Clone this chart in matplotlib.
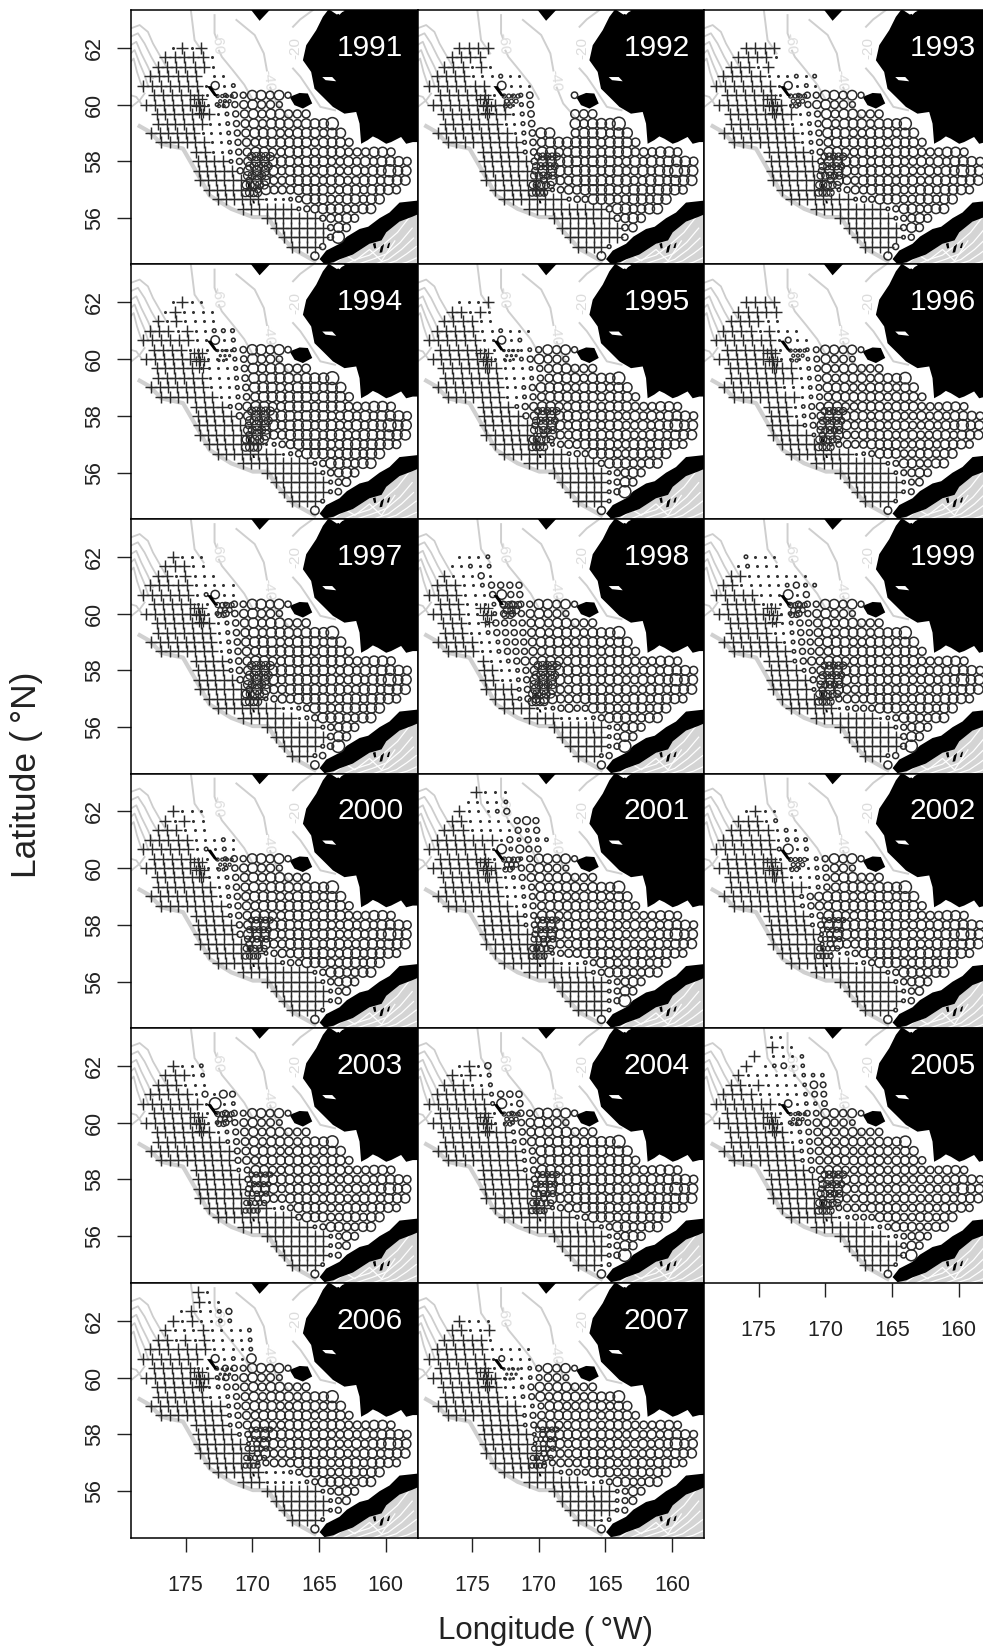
import matplotlib
matplotlib.use("Agg")
import matplotlib.pyplot as plt

plt.rcParams['font.family'] = ['Liberation Sans', 'DejaVu Sans']

W, H = 983, 1651
years = list(range(1991, 2008))
col_left = [131, 417.5, 704]
row_top = [10, 264.5, 519, 773.5, 1028, 1283]
panel_w, panel_h = 286.5, 254.5

# survey grid, rows from r=-3 (63N) to r=22
row_lat = [63.0, 62.67, 62.33, 62.0, 61.67, 61.33, 61.0, 60.67, 60.33, 60.0, 59.67, 59.33, 59.0,
           58.67, 58.33, 58.0, 57.67, 57.33, 57.0, 56.67, 56.33, 56.0, 55.67, 55.33, 55.0, 54.67]
row_step = [.734, .725, .717, .710, .702, .694, .687, .680, .672, .667, .660, .654, .647,
            .641, .635, .629, .623, .617, .612, .606, .601, .596, .591, .586, .581, .576]
lon_ref = 165.3

# usual ring size per station for rows r=5..22, one char per column
base_rings = [
    " 2222222222244342",
    "2222222222234332",
    " 222222222234344333",
    " 222222222234344434445",
    "22222222222344433444344",
    " 22222222223344444434443",
    "     222223344334443444333443",
    "     22222334444434443343434443",
    "     22222344443444344334344544",
    "     22222344433444434433443444",
    "      222233443334444334434443",
    "       222223333224443344344",
    "          22222212334443344",
    "             222222233343",
    "              2222223343",
    "               22222345",
    "                22222",
    "                   3",
]

# last column of crosses in rows r=5..21
cross_end = {
    1991: [6, 6, 7, 6, 5, 6, 6, 8, 9, 10, 11, 12, 16, 19, 20, 20, 19],
    1992: [6, 8, 8, 7, 8, 9, 9, 10, 10, 11, 12, 14, 19, 20, 21, 21, 19],
    1993: [6, 7, 8, 7, 8, 8, 9, 10, 10, 11, 11, 14, 18, 19, 20, 20, 19],
    1994: [4, 6, 5, 6, 6, 7, 8, 9, 10, 10, 12, 14, 18, 19, 20, 20, 19],
    1995: [5, 6, 7, 7, 7, 7, 8, 9, 10, 10, 11, 14, 18, 19, 19, 19, 19],
    1996: [6, 6, 8, 8, 6, 8, 7, 7, 8, 9, 10, 14, 18, 19, 20, 20, 19],
    1997: [5, 6, 7, 7, 7, 7, 8, 8, 9, 10, 12, 14, 16, 19, 20, 19, 18],
    1998: [3, 3, 3, 3, 4, 4, 5, 6, 6, 8, 8, 10, 13, 19, 19, 19, 18],
    1999: [4, 5, 5, 5, 6, 7, 7, 8, 9, 9, 11, 12, 17, 19, 20, 20, 18],
    2000: [5, 6, 6, 7, 7, 8, 8, 9, 9, 10, 12, 14, 18, 19, 20, 20, 19],
    2001: [6, 7, 7, 7, 7, 8, 9, 9, 10, 11, 12, 13, 17, 19, 19, 19, 19],
    2002: [6, 7, 7, 9, 8, 8, 9, 9, 10, 10, 11, 14, 18, 19, 20, 20, 19],
    2003: [5, 6, 7, 8, 9, 9, 9, 10, 10, 11, 13, 16, 18, 20, 20, 20, 19],
    2004: [6, 6, 8, 8, 9, 9, 9, 10, 10, 11, 12, 15, 18, 19, 19, 19, 18],
    2005: [5, 6, 7, 7, 8, 8, 9, 10, 10, 10, 11, 12, 16, 18, 20, 20, 19],
    2006: [5, 7, 6, 6, 8, 8, 8, 9, 10, 11, 11, 12, 12, 19, 20, 20, 19],
    2007: [6, 7, 7, 7, 9, 9, 9, 10, 10, 11, 11, 13, 16, 20, 20, 20, 18],
}

# last column of near-empty stations after the crosses
dot_end = {
    1991: [9, 8, 9, 9, 9, 9, 9, 9, 9, 10, 11, 16, 17, 19, 20, 20, 19],
    1992: [10, 10, 10, 10, 10, 10, 10, 10, 10, 11, 13, 15, 19, 20, 21, 21, 20],
    1993: [9, 9, 10, 10, 10, 10, 10, 10, 10, 11, 13, 15, 19, 20, 20, 21, 19],
    1994: [10, 10, 10, 10, 10, 10, 9, 9, 10, 10, 14, 16, 19, 20, 21, 21, 20],
    1995: [11, 10, 11, 11, 10, 10, 9, 9, 10, 11, 13, 15, 18, 20, 20, 20, 20],
    1996: [10, 10, 10, 10, 10, 10, 9, 9, 9, 10, 12, 16, 19, 20, 21, 21, 20],
    1997: [9, 8, 9, 9, 9, 9, 9, 9, 9, 10, 13, 17, 18, 20, 20, 20, 19],
    1998: [7, 7, 6, 6, 7, 7, 8, 9, 9, 9, 9, 13, 18, 20, 20, 20, 19],
    1999: [8, 8, 8, 8, 8, 8, 8, 9, 9, 10, 12, 14, 19, 20, 20, 20, 19],
    2000: [9, 9, 9, 9, 9, 9, 9, 9, 9, 10, 13, 15, 19, 20, 21, 21, 20],
    2001: [10, 9, 9, 10, 10, 10, 10, 10, 10, 11, 13, 17, 18, 20, 20, 20, 20],
    2002: [11, 11, 11, 11, 9, 9, 10, 10, 11, 11, 14, 16, 19, 20, 21, 21, 20],
    2003: [8, 8, 9, 9, 9, 9, 10, 10, 10, 11, 15, 16, 19, 21, 21, 21, 20],
    2004: [9, 9, 9, 9, 10, 10, 10, 10, 10, 11, 13, 16, 19, 20, 20, 20, 20],
    2005: [9, 8, 9, 9, 9, 9, 9, 10, 10, 10, 12, 14, 18, 20, 20, 20, 20],
    2006: [8, 8, 8, 9, 9, 9, 9, 10, 11, 11, 12, 16, 18, 20, 21, 21, 20],
    2007: [11, 11, 10, 10, 11, 10, 10, 11, 11, 11, 12, 14, 19, 21, 21, 21, 20],
}

# stations north of r=5: rows r=-3..4, + cross, . dot, digit ring size
north = {
    1991: ["", "", "", "    .+.+", "   +++++.", "  ++++++.", " ++++++ ..", "+++++++.3.1"],
    1992: ["", "", "", "    ++++", "   ++++", "  +++.+.", " ++++...1..", "+++++++ 3..."],
    1993: ["", "", "", "    ++++", "   ++++.", "  +++.+", " +++++...1.1", "+++++++.3.1."],
    1994: ["", "", "", "    .+..", "   .+....", "  +.+....", " +++.+..111", "++++++..3.1"],
    1995: ["", "", "", "    ...+", "   ++.+.", "  ++++..", " +++++..1...", "++++++..3.1"],
    1996: ["", "", "", "    ++++", "   +++++", "  ++++..", " ++++.+...", "+++++++.2.."],
    1997: ["", "", "", "    +...", "   +++..", "  ++.+...", " +++++.....", "++++++.13.."],
    1998: ["", "", "", "    ...1", "   ..1.1", "  +...2.", " +++..12222", "++++...2422"],
    1999: ["", "", "", "    1...", "   .1...", "  ++.......", " ++.....1211", "+++++...4.2"],
    2000: ["", "", "", "    +...", "   +.+..", "  +++...", " +++++...1.", "++++++.1.1."],
    2001: ["", "      +...", "     ....1", "    +...12", "   ++.....232", "  +++.....212", " +++++++.21211", "+++++++.41322"],
    2002: ["", "", "", "    .+..", "   +++.1", "  +++++.1.", " ++++++.111", "+++++++14.1"],
    2003: ["", "", "", "    +..1", "   +++.1", "  +++...", " +++++.2.32", "+++++++.5.1"],
    2004: ["", "", "", "    .+.2", "   +.+.1", "  +++..1", " ++++++1222", "+++++++14.2"],
    2005: ["       ..", "       +..", "     + ...1", "    + .12.1", "   +......111", "  ++.+....132", " ++++.....122", "+++++++.3.112"],
    2006: ["       +.", "       +..", "     .+..12", "    +.+..11", "   +...+....1", "  ++.+.+....1", " +++++++....1", "+++++++ 3.1.4"],
    2007: ["", "", "", "    +...", "   ++..+", "  +++++.", " ++++++.....", "+++++++.2..."],
}

ring_scale = {1991: 1.0, 1992: 1.06, 1993: 1.0, 1994: 1.06, 1995: 1.0, 1996: 0.95, 1997: 1.04, 1998: 1.0,
              1999: 1.0, 2000: 1.02, 2001: 0.98, 2002: 1.02, 2003: 0.96, 2004: 1.03, 2005: 0.92, 2006: 0.98, 2007: 0.96}

# stations skipped in a year: (row, first col, last col)
gaps = {1992: [(5, 12, 15), (6, 12, 15), (7, 12, 15), (8, 12, 15), (9, 14, 15)]}

# extra stations round the Pribilofs and St Matthew
prib_lon = [170.05, 169.7, 169.35, 169.0, 168.65, 170.2, 169.85, 169.5, 169.15, 168.8, 170.35, 170.0, 169.65, 169.3, 168.95,
            170.45, 170.15, 169.8, 169.45, 169.1, 170.5, 170.2, 169.9, 169.6]
prib_lat = [58.17, 58.17, 58.17, 58.17, 58.17, 57.83, 57.83, 57.83, 57.83, 57.83, 57.5, 57.5, 57.5, 57.5, 57.5,
            57.17, 57.17, 57.17, 57.17, 57.17, 56.9, 56.9, 56.9, 56.9]
prib_px = {1991: 8, 1992: 7, 1993: 7, 1994: 8, 1995: 7, 1996: 7, 1997: 8, 1998: 8, 1999: 7,
           2000: 6, 2001: 6, 2002: 5, 2003: 5, 2004: 6, 2005: 7, 2006: 5, 2007: 5}
matt_lon = [172.6, 172.25, 171.9, 171.55, 172.4, 172.05, 171.7, 172.5, 172.15]
matt_lat = [60.3, 60.3, 60.3, 60.3, 60.12, 60.12, 60.12, 59.95, 59.95]
matt_px = {1991: 3, 1992: 4, 1993: 4, 1994: 2, 1995: 2, 1996: 3, 1997: 5, 1998: 7, 1999: 5,
           2000: 3, 2001: 5, 2002: 4, 2003: 5, 2004: 4, 2005: 3, 2006: 2, 2007: 2}
hatch_lon = [174.4, 174.1, 173.8, 174.2, 173.9, 173.6, 174.0, 173.7]
hatch_lat = [60.2, 60.2, 60.2, 59.95, 59.95, 59.95, 59.7, 59.7]

# land outlines, lon / lat
alaska_lon = [164.2, 164.7, 165.2, 165.95, 166.2, 165.58, 165.33, 164.7, 163.95, 163.08, 162.2, 161.95, 161.83,
              161.33, 160.95, 160.58, 159.95, 159.58, 158.83, 158.45, 157.95, 157.0, 157.0, 163.0, 163.45, 163.9]
alaska_lat = [63.4, 63.09, 62.62, 62.09, 61.56, 61.15, 60.56, 60.27, 59.92, 59.68, 59.74, 59.33, 58.62,
              58.75, 58.88, 58.8, 58.62, 58.68, 58.86, 58.62, 58.68, 58.68, 63.4, 63.4, 63.16, 63.34]
peninsula_lon = [157.0, 158.95, 159.7, 160.45, 161.3, 161.95, 162.9, 163.45, 164.45, 164.95, 164.58, 163.9, 163.45, 162.45,
                 161.2, 160.3, 159.95, 158.95, 158.0, 157.0]
peninsula_lat = [56.65, 56.55, 56.2, 56.0, 55.7, 55.62, 55.35, 55.1, 54.86, 54.56, 54.38, 54.45, 54.55, 54.72,
                 55.1, 55.22, 55.5, 55.88, 56.05, 56.25]
nunivak_lon = [167.2, 166.45, 165.83, 165.5, 166.2, 166.83]
nunivak_lat = [60.27, 60.41, 60.39, 60.04, 59.86, 59.98]
lawrence_lon = [170.2, 168.55, 169.45]
lawrence_lat = [63.4, 63.4, 62.95]
matthew_lon = [173.4, 173.1, 172.6, 172.85]
matthew_lat = [60.65, 60.65, 60.3, 60.3]
islets = [([160.95, 160.75, 160.7, 160.85], [55.1, 55.13, 54.95, 54.93]),
          ([160.35, 160.1, 160.25, 160.45], [55.0, 55.1, 54.8, 54.78]),
          ([159.8, 159.65, 159.75, 159.9], [55.1, 55.15, 54.95, 54.95]),
          ([170.35, 170.1, 170.05, 170.3], [57.22, 57.2, 57.08, 57.06]),
          ([170.0, 169.85, 169.8, 169.95], [56.64, 56.62, 56.52, 56.52])]
notches = [([164.4, 163.7, 163.05, 163.65], [63.4, 63.4, 63.3, 63.17]),
           ([164.75, 164.0, 163.7, 164.5], [60.97, 60.97, 60.82, 60.86])]

# gulf side depth ground
gulf_lon = [165.6, 164.58, 163.45, 162.45, 161.2, 159.95, 158.95, 157.4, 157.4, 165.6]
gulf_lat = [54.3, 54.38, 54.55, 54.72, 55.1, 55.5, 55.88, 56.3, 54.3, 54.3]
gulf_lines = [([164.0, 163.0, 162.3, 161.2, 160.3, 159.3], [54.35, 54.7, 54.5, 54.9, 54.5, 55.2]),
              ([163.2, 162.2, 161.2, 160.2, 159.1, 158.1], [54.35, 54.55, 54.7, 55.05, 55.5, 56.1]),
              ([162.3, 161.0, 159.9, 158.9, 158.0], [54.35, 54.55, 54.75, 55.15, 55.65]),
              ([161.0, 159.8, 158.8, 157.9], [54.35, 54.55, 54.9, 55.3]),
              ([160.2, 159.2, 158.4, 157.7], [54.35, 54.5, 54.75, 55.0]),
              ([159.2, 158.4, 157.7], [54.35, 54.45, 54.6])]

# depth contours
shelf_lon = [178.45, 177.7, 176.83, 175.2, 174.33, 173.83, 173.2, 171.58, 169.95, 168.83, 168.2, 166.95, 165.33]
shelf_lat = [59.24, 59.04, 58.62, 58.45, 57.74, 57.33, 56.8, 56.33, 56.04, 56.04, 55.56, 54.92, 54.5]
slope_lines = [([179.13, 178.45, 177.83, 177.45, 176.95, 176.45], [62.68, 62.8, 62.56, 62.15, 61.74, 61.33]),
               ([179.13, 178.58, 178.08, 177.58, 177.08], [62.39, 62.51, 62.15, 61.68, 61.27]),
               ([179.13, 178.7, 178.33, 177.83, 177.45], [62.09, 62.21, 61.8, 61.33, 60.92]),
               ([179.13, 178.83, 178.45, 178.08, 177.83], [61.8, 61.92, 61.45, 61.04, 60.68]),
               ([179.13, 178.9, 178.65, 178.4, 178.2], [61.51, 61.62, 61.15, 60.8, 60.56]),
               ([179.13, 178.7, 178.33], [60.33, 60.27, 60.03]),
               ([179.13, 178.45, 178.08], [59.9, 60.15, 60.39])]
depth_lines = [([174.61, 174.33, 173.65], [63.33, 62.27, 61.8]),
               ([172.83, 172.83, 172.7], [63.15, 62.51, 62.35]),
               ([172.5, 172.28, 171.46, 170.6, 170.0], [61.9, 61.68, 61.21, 60.7, 60.2]),
               ([171.19, 169.82, 169.13, 168.9], [62.98, 62.45, 61.8, 61.2]),
               ([168.65, 168.17, 167.08], [60.6, 60.04, 59.45]),
               ([166.94, 166.4, 165.44], [62.74, 63.0, 63.33]),
               ([166.94, 166.39, 165.71, 164.89, 163.79], [61.27, 60.98, 60.51, 59.92, 59.8])]
depth_labels = ["-60", "-40", "-20"]
depth_label_lon = [172.63, 168.77, 166.75]
depth_label_lat = [62.15, 60.86, 61.98]
depth_label_rot = [-85, -85, 90]

ring_px = {'1': 3.5, '2': 6.0, '3': 8.0, '4': 9.5, '5': 12.0}
ink = '#2b2b2b'


def station(r_index, col):
    return lon_ref + row_step[r_index] * (19 - col), row_lat[r_index]


def draw_map(ax):
    ax.fill(gulf_lon, gulf_lat, color='#d4d4d4', lw=0, zorder=1)
    for lo, la in gulf_lines:
        ax.plot(lo, la, color='white', lw=0.9, zorder=1.1)
    ax.plot(shelf_lon, shelf_lat, color='#d0d0d0', lw=3.0, zorder=1.2)
    for lo, la in slope_lines:
        ax.plot(lo, la, color='#cdcdcd', lw=1.3, zorder=1.2)
    for lo, la in depth_lines:
        ax.plot(lo, la, color='#cfcfcf', lw=1.4, zorder=1.2)
    for t, lo, la, rot in zip(depth_labels, depth_label_lon, depth_label_lat, depth_label_rot):
        ax.text(lo, la, t, color='#dcdcdc', fontsize=11, rotation=rot, ha='center', va='center', zorder=1.3)
    for lo, la in [(alaska_lon, alaska_lat), (peninsula_lon, peninsula_lat), (nunivak_lon, nunivak_lat),
                   (lawrence_lon, lawrence_lat)] + islets:
        ax.fill(lo, la, color='black', lw=0, zorder=3)
    for lo, la in notches:
        ax.fill(lo, la, color='white', lw=0, zorder=3.1)


def draw_stations(ax, year):
    cross_x, cross_y, dot_x, dot_y, ring_x, ring_y, ring_s = [], [], [], [], [], [], []
    scale = ring_scale[year]

    def add(code, lo, la):
        if code == '+':
            cross_x.append(lo)
            cross_y.append(la)
        elif code == '.':
            dot_x.append(lo)
            dot_y.append(la)
        elif code != ' ':
            ring_x.append(lo)
            ring_y.append(la)
            ring_s.append((ring_px[code] * scale * 0.72) ** 2)

    for i, row in enumerate(north[year]):
        for c, code in enumerate(row):
            lo, la = station(i, c)
            add(code, lo, la)

    for i, row in enumerate(base_rings):
        r = i + 5
        for c, code in enumerate(row):
            if code == ' ':
                continue
            if any(g[0] == r and g[1] <= c <= g[2] for g in gaps.get(year, [])):
                continue
            lo, la = station(i + 8, c)
            if i < 17 and c <= cross_end[year][i]:
                add('+', lo, la)
            elif i < 17 and c < dot_end[year][i]:
                add('.', lo, la)
            elif i < 17 and c == dot_end[year][i]:
                add('1', lo, la)
            elif i < 17 and c == dot_end[year][i] + 1:
                add('2', lo, la)
            else:
                add(code, lo, la)

    ax.plot(cross_x, cross_y, '+', color=ink, ms=8.2, mew=1.05, zorder=4)
    ax.plot(hatch_lon, hatch_lat, '+', color=ink, ms=6.5, mew=0.9, zorder=4)
    ax.plot(dot_x, dot_y, 'o', color='#333333', ms=2.2, mew=0, zorder=4)
    ax.scatter(ring_x, ring_y, s=ring_s, facecolors='none', edgecolors=ink, linewidths=1.1, zorder=4)
    ax.scatter(prib_lon, prib_lat, s=(prib_px[year] * 0.72) ** 2, facecolors='none', edgecolors=ink, linewidths=0.95, zorder=4)
    ax.scatter(matt_lon, matt_lat, s=(matt_px[year] * 0.72) ** 2, facecolors='none', edgecolors=ink, linewidths=0.95, zorder=4)
    ax.fill(matthew_lon, matthew_lat, color='black', lw=0, zorder=4.5)


fig = plt.figure(figsize=(W / 100, H / 100), dpi=100)

for i, year in enumerate(years):
    row, col = i // 3, i % 3
    left, top = col_left[col], row_top[row]
    ax = fig.add_axes([left / W, 1 - (top + panel_h) / H, panel_w / W, panel_h / H])
    ax.set_xlim(179.1, 157.6)
    ax.set_ylim(54.37, 63.33)
    draw_map(ax)
    draw_stations(ax, year)
    ax.text(0.95, 0.851, str(year), transform=ax.transAxes, color='white', fontsize=21.5,
            ha='right', va='center', zorder=6)
    for s in ax.spines.values():
        s.set_linewidth(1.1)
        s.set_zorder(7)
    ax.set_xticks([175, 170, 165, 160])
    ax.set_yticks([62, 60, 58, 56])
    ax.tick_params(length=10.2, width=1.0, color='#222222', labelcolor='#222222', labelsize=15.5)
    ax.tick_params(axis='x', pad=17, labelbottom=(i >= 14), bottom=(i >= 14))
    ax.tick_params(axis='y', pad=8.5, labelleft=(col == 0), left=(col == 0))
    if col == 0:
        for t in ax.get_yticklabels():
            t.set_rotation(90)
            t.set_va('center')

fig.text(27 / W, 1 - 775 / H, "Latitude (\u2009\u00b0N)", rotation=90, ha='center', va='center', fontsize=25.5, color='#222222')
fig.text(546 / W, 1 - 1631 / H, "Longitude (\u2009\u00b0W)", ha='center', va='center', fontsize=22.5, color='#222222')

fig.savefig("out.png", dpi=100)
